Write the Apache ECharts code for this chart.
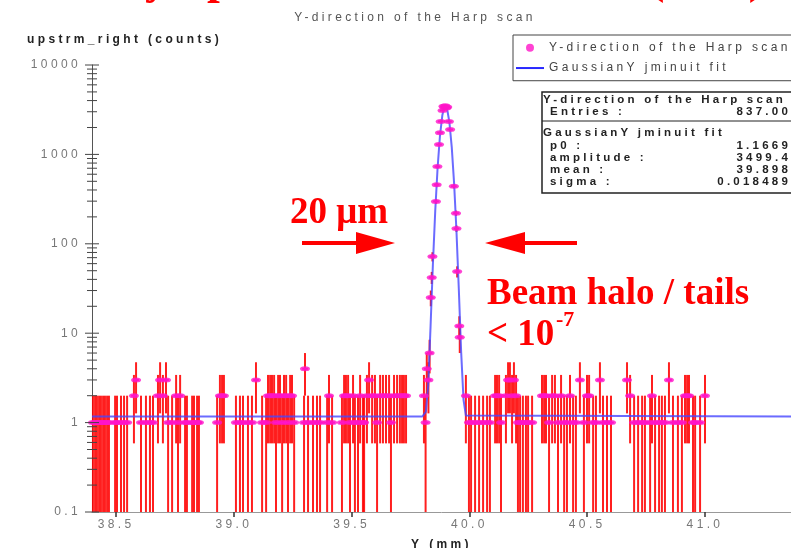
<!DOCTYPE html>
<html><head><meta charset="utf-8">
<script src="https://cdn.jsdelivr.net/npm/echarts@6/dist/echarts.min.js"></script>
<style>html,body{margin:0;padding:0;background:#fff}#c{width:791px;height:548px}</style>
</head><body><div id="c"></div>
<script>
// ---------------- data ----------------
const haloLeftX = [38.402,38.411,38.419,38.428,38.436,38.445,38.453,38.462,38.470,
  38.496,38.504,38.521,38.534,38.547,38.576,38.585,38.606,38.627,38.644,38.657,
  38.678,38.687,38.699,38.712,38.721,38.738,38.755,38.763,38.772,38.793,38.801,38.823,38.831,38.844,38.852,
  38.929,38.941,38.950,38.958,
  39.009,39.026,39.039,39.060,39.077,39.094,39.120,39.137,39.145,39.154,
  39.162,39.171,39.179,39.188,39.196,39.205,39.213,39.222,39.230,39.239,39.247,39.256,
  39.298,39.302,39.315,39.336,39.353,39.366,39.396,39.404,39.417,
  39.459,39.468,39.476,39.485,39.493,39.506,39.514,39.527,39.536,39.548,
  39.553,39.565,39.574,39.587,39.599,39.608,39.621,39.633,39.646,39.659,39.667,39.680,39.693,39.705,39.714,39.722,39.731];
const haloLeftN = [1,1,1,1,1,1,1,1,1,
  1,1,1,1,1,2,3,1,1,1,1,
  2,3,2,3,1,1,2,1,2,1,1,1,1,1,1,
  1,2,2,2,
  1,1,1,1,1,3,1,1,2,2,
  2,2,1,2,2,1,2,2,1,2,2,1,
  1,4,1,1,1,1,1,2,1,
  1,2,2,2,1,2,1,1,2,1,
  1,2,3,2,2,1,2,2,2,2,1,2,2,2,2,2,2];
const peakX = [39.807,39.814,39.819,39.826,39.831,39.836,39.840,39.843,39.858,39.861,39.864,39.871,39.875,39.878,
  39.886,39.890,39.894,39.898,39.902,39.906,39.913,39.918,39.934,39.943,39.945,39.948,39.957,39.959,39.985];
const peakN = [2,1,4,3,6,25,42,72,298,458,730,1290,1750,2340,
  3100,3450,3350,3500,3300,3400,2340,1900,440,220,148,49,12,9,2];
const haloRightX = [39.998,40.007,40.024,40.041,40.058,40.075,40.087,40.109,40.117,40.126,40.134,
  40.155,40.164,40.172,40.181,40.189,40.198,40.206,40.215,40.227,40.240,40.249,40.266,
  40.308,40.317,40.325,40.338,40.351,40.363,40.376,40.389,40.402,40.414,40.427,40.440,40.452,40.469,
  40.486,40.499,40.508,40.525,40.537,40.554,40.567,40.584,40.601,
  40.669,40.682,40.699,40.716,40.733,40.745,40.767,40.775,40.788,40.805,40.817,40.830,40.847,40.864,
  40.885,40.902,40.915,40.924,40.932,40.949,40.958,40.979,41.000];
const haloRightN = [1,1,1,1,1,1,1,2,2,2,1,
  2,3,3,2,3,2,1,1,1,1,1,1,
  2,2,2,1,2,2,1,2,1,1,2,1,1,3,
  1,2,2,1,1,3,1,1,1,
  3,2,1,1,1,1,1,2,1,1,1,1,3,1,
  1,1,2,2,2,1,1,1,2];
const X_ERR = 0.012;   // half bin width (mm)

const fitX = [38.398,39.800,39.815,39.825,39.835,39.845,39.855,39.865,39.875,39.885,39.893,39.898,
  39.905,39.915,39.925,39.935,39.945,39.955,39.965,39.975,39.985,41.365];
const fitY = [1.17,1.17,1.32,2.6,11.8,59,236,714,1617,2735,3375,3500,
  3259,2295,1207,474,139,31,6.1,1.8,1.2,1.17];

const xTicks = [38.5,39.0,39.5,40.0,40.5,41.0];
const xTickLabels = ['38.5','39.0','39.5','40.0','40.5','41.0'];
const yMajorTicks = [0.1,1,10,100,1000,10000];
const yTickLabels = ['0.1','1','10','100','1000','10000'];
const yMinorTicks = [0.2,0.3,0.4,0.5,0.6,0.7,0.8,0.9, 2,3,4,5,6,7,8,9,
  20,30,40,50,60,70,80,90, 200,300,400,500,600,700,800,900,
  2000,3000,4000,5000,6000,7000,8000,9000];

const seriesName = 'Y-direction of the Harp scan';
const fitName = 'GaussianY jminuit fit';
const statsTitle = 'Y-direction of the Harp scan';
const statsEntriesLabel = 'Entries :';
const statsEntriesValue = '837.00';
const fitTitle = 'GaussianY jminuit fit';
const fitLabels = ['p0 :','amplitude :','mean :','sigma :'];
const fitValues = ['1.1669','3499.4','39.898','0.018489'];

// ---------------- Java-plot-like wide lettering ----------------
(function(){
  const P = CanvasRenderingContext2D.prototype;
  const ft = P.fillText, mt = P.measureText;
  function sp(ctx){
    const f = ctx.font || '';
    if (/Liberation Sans/.test(f)) {
      const m = f.match(/([\d.]+)px/);
      ctx.letterSpacing = (m ? parseFloat(m[1]) * 0.28 : 0).toFixed(2) + 'px';
    } else { ctx.letterSpacing = '0px'; }
  }
  P.fillText = function(t,x,y,w){ sp(this); return w === undefined ? ft.call(this,t,x,y) : ft.call(this,t,x,y,w); };
  P.measureText = function(t){ sp(this); return mt.call(this,t); };
})();

// ---------------- build ----------------
const allX = haloLeftX.concat(peakX, haloRightX);
const allN = haloLeftN.concat(peakN, haloRightN);
const points = allX.map((x,i) => [x, allN[i]]);
const fitData = fitX.map((x,i) => [x, fitY[i]]);
const X_MIN = 38.398, X_MAX = 41.365;
const tickData = yMajorTicks.map(v => [X_MIN, v, 1]).concat(yMinorTicks.map(v => [X_MIN, v, 0]));

const RED = 'rgba(255,0,0,0.88)';
const MAG = '#ff14c8';
const BLUE = 'rgba(70,70,255,0.8)';
const SANS = 'Liberation Sans';
const SERIF = 'Liberation Serif';

const chart = echarts.init(document.getElementById('c'), null, {renderer: 'canvas'});

const statsGraphics = [];
statsGraphics.push({type:'rect', shape:{x:542, y:92, width:270, height:101}, style:{fill:'#fff', stroke:'#222', lineWidth:1.5}, z: 100});
statsGraphics.push({type:'line', shape:{x1:542, y1:121, x2:812, y2:121}, style:{stroke:'#222', lineWidth:1}, z: 101});
const sFont = 'bold 11.5px ' + SANS;
function stxt(t, x, y, align){ return {type:'text', x:x, y:y, z:102, style:{text:t, font:sFont, fill:'#222', align:align||'left', verticalAlign:'middle'}}; }
statsGraphics.push(stxt(statsTitle, 543, 100));
statsGraphics.push(stxt(statsEntriesLabel, 550, 112));
statsGraphics.push(stxt(statsEntriesValue, 791, 112, 'right'));
statsGraphics.push(stxt(fitTitle, 543, 133));
fitLabels.forEach((l,i) => {
  statsGraphics.push(stxt(l, 550, 146 + i*12));
  statsGraphics.push(stxt(fitValues[i], 791, 146 + i*12, 'right'));
});

const annFont = 'bold 37px ' + SERIF;
const topFont = 'bold 46px ' + SERIF;
const annGraphics = [
  // slide heading, mostly cut off by the top edge
  {type:'text', x:168, y:-19, z:110, style:{text:'Vertical y', font:topFont, fill:'#ff0000', align:'right', verticalAlign:'middle'}},
  {type:'text', x:207, y:-19, z:110, style:{text:'profile', font:topFont, fill:'#ff0000', verticalAlign:'middle'}},
  {type:'text', x:649, y:-19, z:110, style:{text:'(halo)', font:topFont, fill:'#ff0000', verticalAlign:'middle'}},
  {type:'text', x:290, y:213, z:110, style:{text:'20 μm', font:annFont, fill:'#ff0000', verticalAlign:'middle'}},
  {type:'polygon', z:110, shape:{points:[[302,241],[356,241],[356,232],[395,243],[356,254],[356,245],[302,245]]}, style:{fill:'#ff0000'}},
  {type:'polygon', z:110, shape:{points:[[577,241],[525,241],[525,232],[485,243],[525,254],[525,245],[577,245]]}, style:{fill:'#ff0000'}},
  {type:'text', x:487, y:294, z:110, style:{text:'Beam halo / tails', font:annFont, fill:'#ff0000', verticalAlign:'middle'}},
  {type:'text', x:487, y:335, z:110, style:{text:'< 10', font:annFont, fill:'#ff0000', verticalAlign:'middle'}},
  {type:'text', x:556, y:320, z:110, style:{text:'-7', font:'bold 22px ' + SERIF, fill:'#ff0000', verticalAlign:'middle'}}
];

const option = {
  animation: false,
  backgroundColor: '#fff',
  textStyle: {fontFamily: SANS},
  title: {text: 'Y-direction of the Harp scan', left: 410, top: 5, textAlign: 'center',
    textStyle: {fontSize: 12, fontWeight: 'normal', color: '#555', fontFamily: SANS}},
  legend: {
    left: 513, top: 35, orient: 'vertical', selectedMode: false,
    padding: [5, 200, 5, 3], itemGap: 5, itemWidth: 28, itemHeight: 8,
    borderColor: '#444', borderWidth: 1, backgroundColor: '#fff',
    textStyle: {fontSize: 12, color: '#444', fontFamily: SANS},
    data: [{name: seriesName, icon: 'circle'}, {name: fitName, icon: 'path://M0,0L28,0L28,2L0,2Z'}]
  },
  grid: {left: 92, right: 0, top: 65, bottom: 36, containLabel: false, outerBoundsMode: 'none'},
  xAxis: {
    type: 'value', min: X_MIN, max: X_MAX,
    name: 'Y (mm)', nameLocation: 'middle', nameGap: 24,
    nameTextStyle: {fontWeight: 'bold', fontSize: 12, color: '#222', fontFamily: SANS},
    axisLine: {lineStyle: {color: '#999', width: 1}},
    axisTick: {customValues: xTicks, length: 5, lineStyle: {color: '#333', width: 1.5}},
    axisLabel: {customValues: xTicks, color: '#777', fontSize: 12, margin: 5, fontFamily: SANS,
      formatter: v => { const i = xTicks.findIndex(t => Math.abs(t - v) < 1e-6); return i >= 0 ? xTickLabels[i] : ''; }},
    splitLine: {show: false}
  },
  yAxis: {
    type: 'log', logBase: 10, min: 0.1, max: 10000,
    name: 'upstrm_right (counts)', nameLocation: 'end', nameGap: 18,
    nameTextStyle: {fontWeight: 'bold', fontSize: 12, color: '#222', align: 'left', padding: [0, 0, 0, -65], fontFamily: SANS},
    axisLine: {show: true, lineStyle: {color: '#555', width: 1}},
    axisTick: {show: false},
    axisLabel: {color: '#777', fontSize: 12, margin: 11, fontFamily: SANS,
      formatter: v => yTickLabels[Math.round(Math.log10(v)) + 1]},
    splitLine: {show: false}, minorTick: {show: false}
  },
  series: [
    { // y-axis tick marks (log decades with 2..9 minor ticks)
      type: 'custom', silent: true, z: 6, clip: false, data: tickData, encode: {x: 0, y: 1},
      renderItem: (params, api) => {
        const p = api.coord([api.value(0), api.value(1)]);
        const L = api.value(2) ? 7 : 5;
        return {type: 'line', shape: {x1: p[0] - L, y1: p[1], x2: p[0] + L, y2: p[1]}, style: {stroke: '#444', lineWidth: 1}};
      }
    },
    { // Poisson error bars
      type: 'custom', name: 'errors', silent: true, z: 2, data: points, encode: {x: 0, y: 1},
      renderItem: (params, api) => {
        const x = api.value(0), n = api.value(1), e = Math.sqrt(n);
        const lo = Math.max(n - e, 0.1), hi = Math.min(n + e, 10000);
        const a = api.coord([x, hi]), b = api.coord([x, lo]);
        return {type: 'line', shape: {x1: a[0], y1: a[1], x2: b[0], y2: b[1]}, style: {stroke: RED, lineWidth: 2}};
      }
    },
    {
      type: 'line', name: fitName, z: 3, data: fitData, showSymbol: false, symbol: 'none',
      lineStyle: {color: BLUE, width: 2}, itemStyle: {color: 'rgba(40,40,255,1)'}, silent: true
    },
    { // x error bars
      type: 'custom', name: 'xerr', silent: true, z: 4, data: points, encode: {x: 0, y: 1},
      renderItem: (params, api) => {
        const x = api.value(0), n = api.value(1);
        const a = api.coord([x - X_ERR, n]), b = api.coord([x + X_ERR, n]);
        return {type: 'line', shape: {x1: a[0], y1: a[1], x2: b[0], y2: b[1]}, style: {stroke: MAG, lineWidth: 2}};
      }
    },
    {
      type: 'scatter', name: seriesName, z: 5, data: points, symbol: 'circle', symbolSize: [10, 5],
      itemStyle: {color: MAG}, silent: true
    }
  ],
  graphic: statsGraphics.concat(annGraphics)
};
chart.setOption(option);
</script>
</body></html>
